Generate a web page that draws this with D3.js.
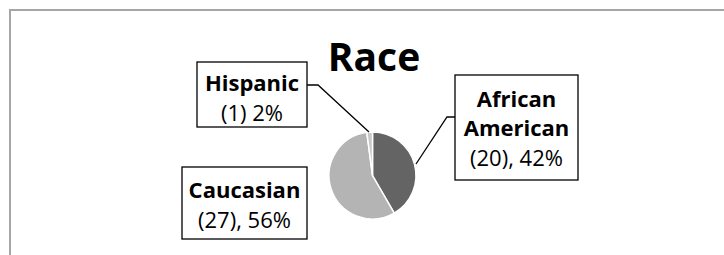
<!DOCTYPE html>
<html><head><meta charset="utf-8">
<script src="https://cdn.jsdelivr.net/npm/d3@7"></script>
<style>
html,body{margin:0;padding:0;background:#fff;}
svg{display:block;}
text{font-family:"Open Sans","Liberation Sans",sans-serif;fill:#000;}
</style></head>
<body>
<svg id="chart" width="724" height="255"></svg>
<script>
const title = "Race";
const categories = ["African American", "Caucasian", "Hispanic"];
const counts = [20, 27, 1];
const percents = ["42%", "56%", "2%"];
const labelLines = [["African", "American", "(20), 42%"], ["Caucasian", "(27), 56%"], ["Hispanic", "(1) 2%"]];
const colors = ["#646464", "#b4b4b4", "#c9c9c9"];

const svg = d3.select("#chart");
// chart area border
svg.append("path").attr("d", "M10,260 L10,10 L730,10")
  .attr("fill", "none").attr("stroke", "#a6a6a6").attr("stroke-width", 2);

svg.append("text").attr("x", 374).attr("y", 71).attr("text-anchor", "middle")
  .style("font-weight", "bold").style("font-size", "39px").text(title);

const cx = 372.5, cy = 175.5, r = 43.5;
const pie = d3.pie().sort(null).value(d => d)(counts);
const arc = d3.arc().innerRadius(0).outerRadius(r);
const g = svg.append("g").attr("transform", `translate(${cx},${cy})`);
g.selectAll("path").data(pie).join("path")
  .attr("d", arc).attr("fill", (d, i) => colors[i])
  .attr("stroke", "#fff").attr("stroke-width", 1.5);

// label boxes (layout positions)
const boxes = [
  {x: 455, y: 75, w: 123, h: 105, cxT: 516.5, base: [107, 136, 166], conn: [[455,117],[447,117],[416,164]]},
  {x: 182, y: 167, w: 125, h: 72, cxT: 244.5, base: [198, 228], conn: null},
  {x: 197, y: 62, w: 110, h: 65, cxT: 252, base: [91, 121], conn: [[307,85],[318,85],[369,132]]}
];
boxes.forEach((b, i) => {
  if (b.conn) {
    svg.append("path").attr("d", d3.line()(b.conn)).attr("fill", "none")
      .attr("stroke", "#000").attr("stroke-width", 1.3);
  }
  svg.append("rect").attr("x", b.x).attr("y", b.y).attr("width", b.w).attr("height", b.h)
    .attr("fill", "#fff").attr("stroke", "#000").attr("stroke-width", 1.3);
  const lines = labelLines[i];
  lines.forEach((t, j) => {
    const last = j === lines.length - 1;
    svg.append("text").attr("x", b.cxT).attr("y", b.base[j]).attr("text-anchor", "middle")
      .style("font-weight", last ? "normal" : "bold").style("font-size", "22px").text(t);
  });
});
</script>
</body></html>
